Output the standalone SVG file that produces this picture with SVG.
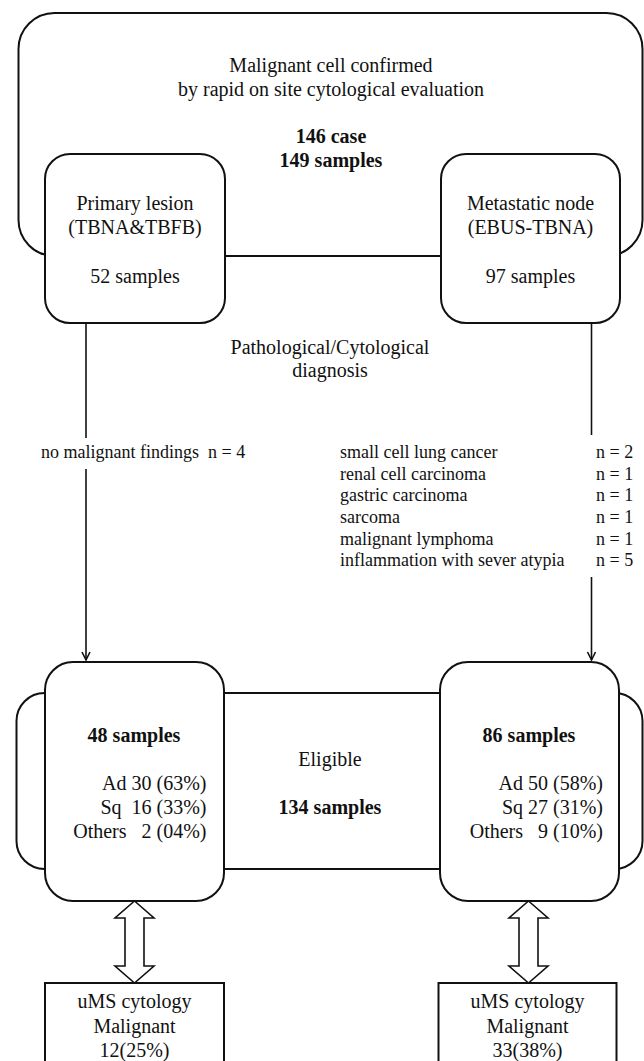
<svg xmlns="http://www.w3.org/2000/svg" width="644" height="1061" viewBox="0 0 644 1061">
<style>
text{font-family:"Liberation Serif","Times New Roman",serif;fill:#111;}
.t20{font-size:20px;}
.t18{font-size:18px;}
.b{font-weight:bold;}
.m{text-anchor:middle;}
.e{text-anchor:end;}
.frame{fill:none;stroke:#111;stroke-width:2;}
.box{fill:#fff;stroke:#111;stroke-width:2;}
.ln{fill:none;stroke:#111;stroke-width:1.6;}
.dbl{fill:#fff;stroke:#111;stroke-width:1.6;stroke-linejoin:miter;}
</style>
<defs>
<marker id="ah" markerUnits="userSpaceOnUse" markerWidth="12" markerHeight="12" viewBox="-10 -6 12 12" refX="0" refY="0" orient="auto">
<path d="M-8,-4 L0,0 L-8,4" fill="none" stroke="#111" stroke-width="1.6"/>
</marker>
</defs>
<rect width="644" height="1061" fill="#fff"/>

<g id="confirmed">
<rect class="frame" x="18.5" y="13" width="624" height="243" rx="36"/>
<text class="t20 m" x="331" y="72">Malignant cell confirmed</text>
<text class="t20 m" x="331" y="96">by rapid on site cytological evaluation</text>
<text class="t20 m b" x="331" y="143">146 case</text>
<text class="t20 m b" x="331" y="167">149 samples</text>
</g>

<g id="primary">
<rect class="box" x="45" y="154" width="180" height="169" rx="25"/>
<text class="t20 m" x="135" y="210">Primary lesion</text>
<text class="t20 m" x="135" y="234">(TBNA&amp;TBFB)</text>
<text class="t20 m" x="135" y="283">52 samples</text>
</g>

<g id="metastatic">
<rect class="box" x="441" y="154" width="179" height="169" rx="25"/>
<text class="t20 m" x="530.5" y="210">Metastatic node</text>
<text class="t20 m" x="530.5" y="234">(EBUS-TBNA)</text>
<text class="t20 m" x="530.5" y="283">97 samples</text>
</g>

<g id="connectors">
<line class="ln" x1="86" y1="323" x2="86" y2="438"/>
<line class="ln" x1="86" y1="469" x2="86" y2="660" marker-end="url(#ah)"/>
<line class="ln" x1="591.5" y1="323" x2="591.5" y2="435"/>
<line class="ln" x1="591.5" y1="577" x2="591.5" y2="660" marker-end="url(#ah)"/>
</g>

<g id="diagnosis-label">
<text class="t20 m" x="330" y="354">Pathological/Cytological</text>
<text class="t20 m" x="330" y="377">diagnosis</text>
</g>

<g id="excluded-primary">
<text class="t18" x="41" y="458" xml:space="preserve">no malignant findings  n = 4</text>
</g>

<g id="excluded-node">
<text class="t18" x="340" y="458">small cell lung cancer</text>
<text class="t18" x="340" y="479.7">renal cell carcinoma</text>
<text class="t18" x="340" y="501.3">gastric carcinoma</text>
<text class="t18" x="340" y="523">sarcoma</text>
<text class="t18" x="340" y="544.7">malignant lymphoma</text>
<text class="t18" x="340" y="566.3">inflammation with sever atypia</text>
<text class="t18" x="596" y="458">n = 2</text>
<text class="t18" x="596" y="479.7">n = 1</text>
<text class="t18" x="596" y="501.3">n = 1</text>
<text class="t18" x="596" y="523">n = 1</text>
<text class="t18" x="596" y="544.7">n = 1</text>
<text class="t18" x="596" y="566.3">n = 5</text>
</g>

<g id="eligible">
<rect class="frame" x="16.5" y="693" width="626" height="176" rx="28"/>
<text class="t20 m" x="330" y="766">Eligible</text>
<text class="t20 m b" x="330" y="814">134 samples</text>
</g>

<g id="eligible-primary">
<rect class="box" x="45" y="662" width="179" height="239" rx="28"/>
<text class="t20 m b" x="134" y="742">48 samples</text>
<text class="t20 e" x="206.5" y="790">Ad 30 (63%)</text>
<text class="t20 e" x="206.5" y="814" xml:space="preserve">Sq  16 (33%)</text>
<text class="t20 e" x="206.5" y="838" xml:space="preserve">Others   2 (04%)</text>
</g>

<g id="eligible-node">
<rect class="box" x="440" y="662" width="179" height="239" rx="28"/>
<text class="t20 m b" x="529" y="742">86 samples</text>
<text class="t20 e" x="603" y="790">Ad 50 (58%)</text>
<text class="t20 e" x="603" y="814">Sq 27 (31%)</text>
<text class="t20 e" x="603" y="838" xml:space="preserve">Others   9 (10%)</text>
</g>

<g id="double-arrows">
<polygon class="dbl" points="134.5,901 154,918 144,918 144,966 154,966 134.5,983 115,966 125,966 125,918 115,918"/>
<polygon class="dbl" points="528.5,901 548,918 538,918 538,966 548,966 528.5,983 509,966 519,966 519,918 509,918"/>
</g>

<g id="ums-primary">
<rect class="box" x="45" y="983" width="179" height="90"/>
<text class="t20 m" x="134.5" y="1008">uMS cytology</text>
<text class="t20 m" x="134.5" y="1033">Malignant</text>
<text class="t20 m" x="134.5" y="1057">12(25%)</text>
</g>

<g id="ums-node">
<rect class="box" x="438.5" y="983" width="178" height="90"/>
<text class="t20 m" x="527.5" y="1008">uMS cytology</text>
<text class="t20 m" x="527.5" y="1033">Malignant</text>
<text class="t20 m" x="527.5" y="1057">33(38%)</text>
</g>
</svg>
